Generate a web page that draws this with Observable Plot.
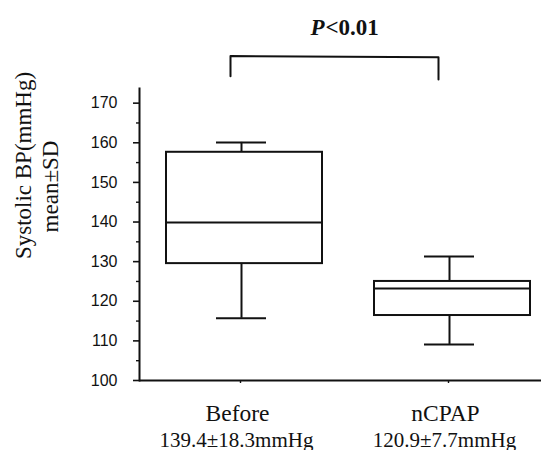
<!DOCTYPE html>
<html>
<head>
<meta charset="utf-8">
<script src="https://cdn.jsdelivr.net/npm/d3@7"></script>
<script src="https://cdn.jsdelivr.net/npm/@observablehq/plot@0.6"></script>
<style>
  html, body { margin: 0; padding: 0; background: #fff; }
  #chart svg { display: block; }
</style>
</head>
<body>
<div id="chart"></div>
<script>
// ---- data ----
const groups = ["Before", "nCPAP"];
const boxLow = [129.5, 116.4];
const boxHigh = [157.6, 125.0];
const medians = [139.9, 123.2];
const whiskerLow = [115.7, 109.1];
const whiskerHigh = [160.1, 131.3];
const summaries = ["139.4±18.3mmHg", "120.9±7.7mmHg"];
const yTicks = [100, 110, 120, 130, 140, 150, 160, 170];
const yMinorTicks = [105, 115, 125, 135, 145, 155, 165];
const bracketTop = [181.9, 181.6];
const bracketEnds = [176.8, 176.0];
const pLetter = "P";
const pRest = "<0.01";
const yLabelLines = ["Systolic BP(mmHg)", "mean±SD"];

const rows = groups.map((g, i) => ({
  group: g, lo: boxLow[i], hi: boxHigh[i], med: medians[i],
  wlo: whiskerLow[i], whi: whiskerHigh[i], summary: summaries[i]
}));
const bracket = [
  {x: groups[0], y: bracketEnds[0]},
  {x: groups[0], y: bracketTop[0]},
  {x: groups[1], y: bracketTop[1]},
  {x: groups[1], y: bracketEnds[1]}
];

const ink = "#111";
const serif = "'Liberation Serif', 'Times New Roman', serif";
const sans = "'Liberation Sans', Arial, sans-serif";

const chart = Plot.plot({
  width: 541,
  height: 450,
  marginTop: 88,
  marginBottom: 70,
  marginLeft: 139,
  marginRight: 0,
  style: {background: "#fff", color: ink, fontFamily: sans},
  x: {domain: groups, paddingInner: 0.25, paddingOuter: 0.09, align: 0.7, axis: null},
  y: {domain: [100, 173.7], axis: null},
  marks: [
    Plot.frame({anchor: "left", stroke: ink, strokeWidth: 2}),
    Plot.ruleY([100], {stroke: ink, strokeWidth: 2}),
    Plot.axisY(yTicks, {tickSize: 6, tickPadding: 16, fontSize: 16, stroke: ink, strokeWidth: 1.6, fill: ink, label: null}),
    Plot.axisY(yMinorTicks, {tickSize: 3, tickFormat: () => "", stroke: ink, strokeWidth: 1.4, label: null}),
    Plot.axisX({tickSize: 3, tickFormat: () => "", stroke: ink, strokeWidth: 1.4, label: null, dx: -4}),
    // whiskers
    Plot.ruleX(rows, {x: "group", y1: "hi", y2: "whi", dx: -3, stroke: ink, strokeWidth: 2}),
    Plot.ruleX(rows, {x: "group", y1: "wlo", y2: "lo", dx: -3, stroke: ink, strokeWidth: 2}),
    Plot.tickY(rows, {x: "group", y: "whi", insetLeft: 53, insetRight: 53, dx: -3, stroke: ink, strokeWidth: 2}),
    Plot.tickY(rows, {x: "group", y: "wlo", insetLeft: 53, insetRight: 53, dx: -3, stroke: ink, strokeWidth: 2}),
    // boxes
    Plot.barY(rows, {x: "group", y1: "lo", y2: "hi", fill: "none", stroke: ink, strokeWidth: 2}),
    Plot.tickY(rows, {x: "group", y: "med", stroke: ink, strokeWidth: 2}),
    // significance bracket
    Plot.line(bracket, {x: "x", y: "y", dx: -14, stroke: ink, strokeWidth: 2}),
    Plot.text([pLetter], {text: d => d, frameAnchor: "top", textAnchor: "end", lineAnchor: "bottom", dx: -16, dy: -54,
      fontFamily: serif, fontSize: 23, fontWeight: "bold", fontStyle: "italic", fill: ink}),
    Plot.text([pRest], {text: d => d, frameAnchor: "top", textAnchor: "start", lineAnchor: "bottom", dx: -15, dy: -54,
      fontFamily: serif, fontSize: 23, fontWeight: "bold", fill: ink}),
    // category labels
    Plot.text(rows, {x: "group", text: "group", frameAnchor: "bottom", textAnchor: "middle", lineAnchor: "bottom", dx: -7, dy: 40,
      fontFamily: serif, fontSize: 23.5, fill: ink}),
    Plot.text(rows, {x: "group", text: "summary", frameAnchor: "bottom", textAnchor: "middle", lineAnchor: "bottom", dx: -8, dy: 66,
      fontFamily: serif, fontSize: 21, fill: ink}),
    // y label (two lines)
    Plot.text([yLabelLines[0]], {text: d => d, frameAnchor: "left", textAnchor: "middle", rotate: -90, lineAnchor: "middle", dx: -116, dy: -69,
      fontFamily: serif, fontSize: 23, fill: ink}),
    Plot.text([yLabelLines[1]], {text: d => d, frameAnchor: "left", textAnchor: "middle", rotate: -90, lineAnchor: "middle", dx: -89, dy: -48,
      fontFamily: serif, fontSize: 23, fill: ink})
  ]
});
document.getElementById("chart").appendChild(chart);
</script>
</body>
</html>
